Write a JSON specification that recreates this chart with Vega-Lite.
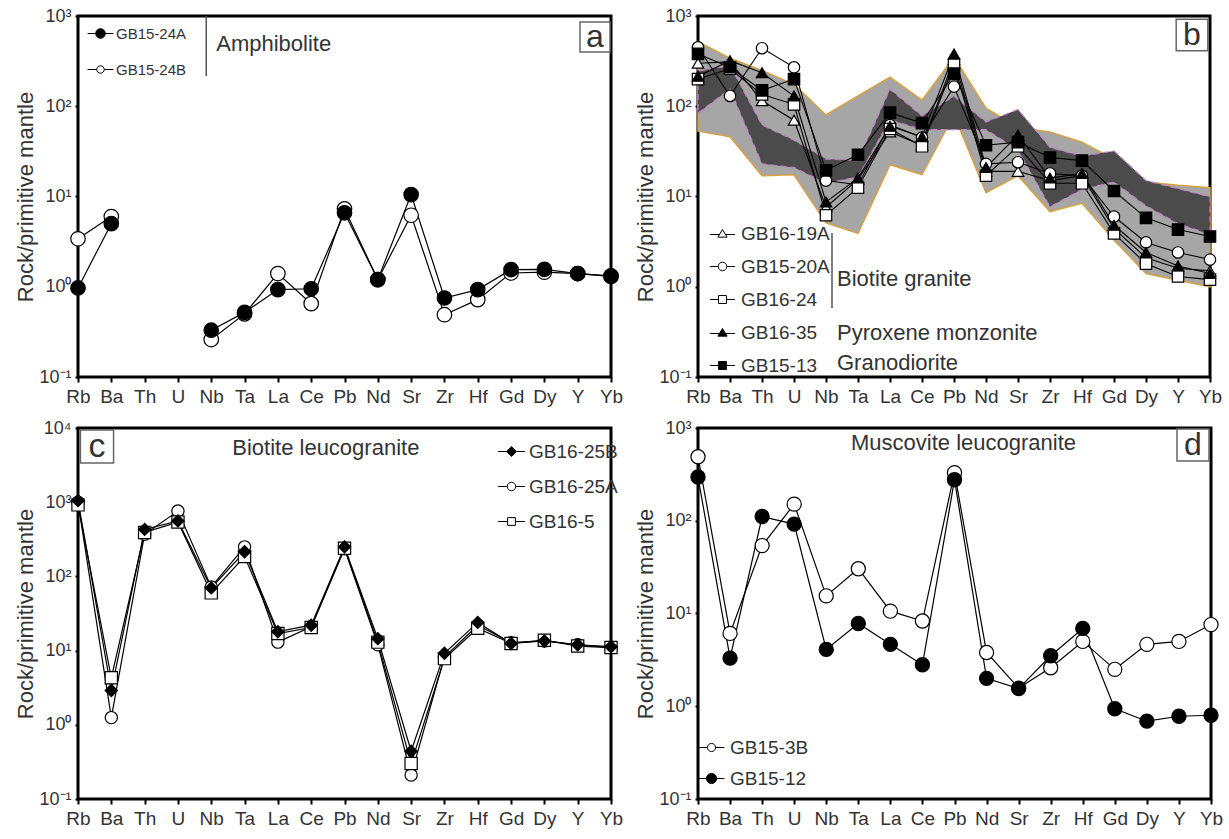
{
  "$schema": "https://vega.github.io/schema/vega-lite/v6.json",
  "padding": {"left": 12, "top": 5, "right": 5, "bottom": 5},
  "background": "white",
  "columns": 2,
  "spacing": {"row": 51, "column": 87},
  "bounds": "flush",
  "config": {
    "font": "Liberation Sans",
    "view": {"stroke": "black", "strokeWidth": 3},
    "axisX": {"domain": false, "grid": false, "labelFontSize": 19, "labelColor": "#333", "labelAngle": 0, "labelPadding": 5, "tickSize": 5, "tickWidth": 2, "tickColor": "black", "labelOverlap": false},
    "axisY": {"domain": false, "grid": false, "labelFontSize": 18, "labelColor": "#333", "tickSize": 3, "tickWidth": 2, "tickColor": "black", "labelPadding": 4, "minExtent": 40, "maxExtent": 40, "titlePadding": 1, "titleFontSize": 22, "titleFontWeight": "normal", "titleColor": "#333"},
    "legend": {"labelColor": "#333", "labelLimit": 0, "padding": 0, "symbolStrokeColor": "black", "symbolStrokeWidth": 1, "symbolOpacity": 1}
  },
  "concat": [
    {
      "width": 533, "height": 361,
      "data": {"values": [
        {"el":"Rb","s":"GB15-24B","v":3.4,"part":1},{"el":"Ba","s":"GB15-24B","v":6.0,"part":1},
        {"el":"Nb","s":"GB15-24B","v":0.26,"part":2},{"el":"Ta","s":"GB15-24B","v":0.5,"part":2},{"el":"La","s":"GB15-24B","v":1.4,"part":2},{"el":"Ce","s":"GB15-24B","v":0.65,"part":2},{"el":"Pb","s":"GB15-24B","v":7.3,"part":2},{"el":"Nd","s":"GB15-24B","v":1.2,"part":2},{"el":"Sr","s":"GB15-24B","v":6.2,"part":2},{"el":"Zr","s":"GB15-24B","v":0.49,"part":2},{"el":"Hf","s":"GB15-24B","v":0.72,"part":2},{"el":"Gd","s":"GB15-24B","v":1.42,"part":2},{"el":"Dy","s":"GB15-24B","v":1.45,"part":2},{"el":"Y","s":"GB15-24B","v":1.4,"part":2},{"el":"Yb","s":"GB15-24B","v":1.3,"part":2},
        {"el":"Rb","s":"GB15-24A","v":0.97,"part":1},{"el":"Ba","s":"GB15-24A","v":5.0,"part":1},
        {"el":"Nb","s":"GB15-24A","v":0.33,"part":2},{"el":"Ta","s":"GB15-24A","v":0.52,"part":2},{"el":"La","s":"GB15-24A","v":0.93,"part":2},{"el":"Ce","s":"GB15-24A","v":0.95,"part":2},{"el":"Pb","s":"GB15-24A","v":6.6,"part":2},{"el":"Nd","s":"GB15-24A","v":1.2,"part":2},{"el":"Sr","s":"GB15-24A","v":10.5,"part":2},{"el":"Zr","s":"GB15-24A","v":0.75,"part":2},{"el":"Hf","s":"GB15-24A","v":0.93,"part":2},{"el":"Gd","s":"GB15-24A","v":1.55,"part":2},{"el":"Dy","s":"GB15-24A","v":1.56,"part":2},{"el":"Y","s":"GB15-24A","v":1.4,"part":2},{"el":"Yb","s":"GB15-24A","v":1.32,"part":2}
      ]},
      "encoding": {
        "x": {"field": "el", "type": "ordinal", "sort": ["Rb","Ba","Th","U","Nb","Ta","La","Ce","Pb","Nd","Sr","Zr","Hf","Gd","Dy","Y","Yb"], "scale": {"type": "point", "padding": 0, "domain": ["Rb","Ba","Th","U","Nb","Ta","La","Ce","Pb","Nd","Sr","Zr","Hf","Gd","Dy","Y","Yb"]}, "axis": {"title": null}},
        "y": {"field": "v", "type": "quantitative", "scale": {"type": "log", "domain": [0.1, 1000], "nice": false}, "axis": {"title": "Rock/primitive mantle", "values": [0.1, 1, 10, 100, 1000], "labelExpr": "datum.value >= 5000 ? '10⁴' : datum.value >= 500 ? '10³' : datum.value >= 50 ? '10²' : datum.value >= 5 ? '10¹' : datum.value >= 0.5 ? '10⁰' : '10⁻¹'"}}
      },
      "layer": [
        {"mark": {"type": "line", "color": "black", "strokeWidth": 1.2}, "encoding": {"detail": [{"field": "s", "type": "nominal"}, {"field": "part", "type": "nominal"}]}},
        {"mark": {"type": "point", "size": 210, "stroke": "black", "strokeWidth": 1.2, "opacity": 1, "fillOpacity": 1},
         "encoding": {
           "shape": {"field": "s", "type": "nominal", "scale": {"domain": ["GB15-24A","GB15-24B"], "range": ["circle","circle"]}, "legend": null},
           "fill": {"field": "s", "type": "nominal", "scale": {"domain": ["GB15-24A","GB15-24B"], "range": ["black","white"]}, "legend": null}}},
        {"transform": [{"filter": "false"}],
         "mark": {"type": "point", "size": 185, "stroke": "black", "strokeWidth": 1, "opacity": 1, "fillOpacity": 1},
         "encoding": {
           "shape": {"field": "s", "type": "nominal", "scale": {"domain": ["GB15-24A","GB15-24B"], "range": ["M-1.9,0L-0.7,0M0.7,0L1.9,0M-0.7,0A0.7,0.7,0,1,1,0.7,0A0.7,0.7,0,1,1,-0.7,0Z","M-1.9,0L-0.55,0M0.55,0L1.9,0M-0.55,0A0.55,0.55,0,1,1,0.55,0A0.55,0.55,0,1,1,-0.55,0Z"]},
             "legend": {"orient": "none", "legendX": 15, "legendY": 10, "title": null, "labelFontSize": 15, "labelOffset": 8, "rowPadding": 20, "symbolSize": 185, "encode": {"symbols": {"update": {"stroke": {"value": "black"}, "strokeWidth": {"value": 1}}}}}},
           "fill": {"field": "s", "type": "nominal", "scale": {"domain": ["GB15-24A","GB15-24B"], "range": ["black","white"]},
             "legend": {"orient": "none", "legendX": 15, "legendY": 10, "title": null, "labelFontSize": 15, "labelOffset": 8, "rowPadding": 20, "symbolSize": 185, "encode": {"symbols": {"update": {"stroke": {"value": "black"}, "strokeWidth": {"value": 1}}}}}}}},
        {"data": {"values": [{"el": "Nb", "v": 490, "t": "Amphibolite"}]},
         "mark": {"type": "text", "align": "left", "baseline": "middle", "dx": 5, "fontSize": 22, "color": "#333"},
         "encoding": {"text": {"field": "t", "type": "nominal"}}},
        {"data": {"values": [{"el": "Nb", "v": 1000, "v2": 216}]},
         "mark": {"type": "rule", "xOffset": -5, "color": "#555", "strokeWidth": 1.5},
         "encoding": {"y2": {"field": "v2"}}},
        {"data": {"values": [{"el": "Yb", "v": 585, "t": "a"}]},
         "layer": [
           {"mark": {"type": "point", "shape": "square", "size": 900, "fill": "white", "stroke": "#666", "strokeWidth": 1.5, "opacity": 1, "fillOpacity": 1, "xOffset": -16}},
           {"mark": {"type": "text", "align": "center", "baseline": "middle", "dx": -16, "fontSize": 32, "color": "#333"}, "encoding": {"text": {"field": "t", "type": "nominal"}}}
         ]}
      ],
      "resolve": {"scale": {"shape": "independent", "fill": "independent"}}
    },
    {
      "width": 512, "height": 361,
      "data": {"values": [
        {"el":"Rb","s":"GB16-19A","v":300},{"el":"Ba","s":"GB16-19A","v":310},{"el":"Th","s":"GB16-19A","v":115},{"el":"U","s":"GB16-19A","v":70},{"el":"Nb","s":"GB16-19A","v":7.6},{"el":"Ta","s":"GB16-19A","v":15.5},{"el":"La","s":"GB16-19A","v":52},{"el":"Ce","s":"GB16-19A","v":37},{"el":"Pb","s":"GB16-19A","v":330},{"el":"Nd","s":"GB16-19A","v":19},{"el":"Sr","s":"GB16-19A","v":19},{"el":"Zr","s":"GB16-19A","v":15},{"el":"Hf","s":"GB16-19A","v":17},{"el":"Gd","s":"GB16-19A","v":4.4},{"el":"Dy","s":"GB16-19A","v":2.1},{"el":"Y","s":"GB16-19A","v":1.6},{"el":"Yb","s":"GB16-19A","v":1.5},
        {"el":"Rb","s":"GB15-20A","v":450},{"el":"Ba","s":"GB15-20A","v":130},{"el":"Th","s":"GB15-20A","v":440},{"el":"U","s":"GB15-20A","v":270},{"el":"Nb","s":"GB15-20A","v":15},{"el":"Ta","s":"GB15-20A","v":13.5},{"el":"La","s":"GB15-20A","v":62},{"el":"Ce","s":"GB15-20A","v":45},{"el":"Pb","s":"GB15-20A","v":165},{"el":"Nd","s":"GB15-20A","v":23},{"el":"Sr","s":"GB15-20A","v":24},{"el":"Zr","s":"GB15-20A","v":18},{"el":"Hf","s":"GB15-20A","v":17},{"el":"Gd","s":"GB15-20A","v":6.0},{"el":"Dy","s":"GB15-20A","v":3.1},{"el":"Y","s":"GB15-20A","v":2.4},{"el":"Yb","s":"GB15-20A","v":2.0},
        {"el":"Rb","s":"GB16-24","v":200},{"el":"Ba","s":"GB16-24","v":260},{"el":"Th","s":"GB16-24","v":135},{"el":"U","s":"GB16-24","v":105},{"el":"Nb","s":"GB16-24","v":6.2},{"el":"Ta","s":"GB16-24","v":12.5},{"el":"La","s":"GB16-24","v":56},{"el":"Ce","s":"GB16-24","v":36},{"el":"Pb","s":"GB16-24","v":290},{"el":"Nd","s":"GB16-24","v":17},{"el":"Sr","s":"GB16-24","v":36},{"el":"Zr","s":"GB16-24","v":14},{"el":"Hf","s":"GB16-24","v":14},{"el":"Gd","s":"GB16-24","v":3.9},{"el":"Dy","s":"GB16-24","v":1.8},{"el":"Y","s":"GB16-24","v":1.3},{"el":"Yb","s":"GB16-24","v":1.2},
        {"el":"Rb","s":"GB16-35","v":215},{"el":"Ba","s":"GB16-35","v":320},{"el":"Th","s":"GB16-35","v":235},{"el":"U","s":"GB16-35","v":130},{"el":"Nb","s":"GB16-35","v":8.7},{"el":"Ta","s":"GB16-35","v":16},{"el":"La","s":"GB16-35","v":60},{"el":"Ce","s":"GB16-35","v":46},{"el":"Pb","s":"GB16-35","v":380},{"el":"Nd","s":"GB16-35","v":21},{"el":"Sr","s":"GB16-35","v":48},{"el":"Zr","s":"GB16-35","v":16},{"el":"Hf","s":"GB16-35","v":18},{"el":"Gd","s":"GB16-35","v":4.8},{"el":"Dy","s":"GB16-35","v":2.4},{"el":"Y","s":"GB16-35","v":1.7},{"el":"Yb","s":"GB16-35","v":1.4},
        {"el":"Rb","s":"GB15-13","v":380},{"el":"Ba","s":"GB15-13","v":270},{"el":"Th","s":"GB15-13","v":150},{"el":"U","s":"GB15-13","v":200},{"el":"Nb","s":"GB15-13","v":19.5},{"el":"Ta","s":"GB15-13","v":29},{"el":"La","s":"GB15-13","v":85},{"el":"Ce","s":"GB15-13","v":65},{"el":"Pb","s":"GB15-13","v":230},{"el":"Nd","s":"GB15-13","v":37},{"el":"Sr","s":"GB15-13","v":40},{"el":"Zr","s":"GB15-13","v":27},{"el":"Hf","s":"GB15-13","v":25},{"el":"Gd","s":"GB15-13","v":11.5},{"el":"Dy","s":"GB15-13","v":5.8},{"el":"Y","s":"GB15-13","v":4.3},{"el":"Yb","s":"GB15-13","v":3.6}
      ]},
      "encoding": {
        "x": {"field": "el", "type": "ordinal", "sort": ["Rb","Ba","Th","U","Nb","Ta","La","Ce","Pb","Nd","Sr","Zr","Hf","Gd","Dy","Y","Yb"], "scale": {"type": "point", "padding": 0, "domain": ["Rb","Ba","Th","U","Nb","Ta","La","Ce","Pb","Nd","Sr","Zr","Hf","Gd","Dy","Y","Yb"]}, "axis": {"title": null}},
        "y": {"field": "v", "type": "quantitative", "scale": {"type": "log", "domain": [0.1, 1000], "nice": false}, "axis": {"title": "Rock/primitive mantle", "values": [0.1, 1, 10, 100, 1000], "labelExpr": "datum.value >= 5000 ? '10⁴' : datum.value >= 500 ? '10³' : datum.value >= 50 ? '10²' : datum.value >= 5 ? '10¹' : datum.value >= 0.5 ? '10⁰' : '10⁻¹'"}}
      },
      "layer": [
        {"data": {"values": [
          {"el":"Rb","v":53,"v2":520},{"el":"Ba","v":46,"v2":340},{"el":"Th","v":17,"v2":250},{"el":"U","v":17.4,"v2":175},{"el":"Nb","v":5.1,"v2":80},{"el":"Ta","v":3.9,"v2":130},{"el":"La","v":22.5,"v2":210},{"el":"Ce","v":17.5,"v2":117},{"el":"Pb","v":80,"v2":350},{"el":"Nd","v":11,"v2":95},{"el":"Sr","v":17,"v2":58},{"el":"Zr","v":6.8,"v2":52},{"el":"Hf","v":8.4,"v2":40},{"el":"Gd","v":3.3,"v2":26},{"el":"Dy","v":1.4,"v2":14.5},{"el":"Y","v":1.18,"v2":13.3},{"el":"Yb","v":1.0,"v2":12.5}
         ]},
         "mark": {"type": "area", "fill": "#a6a6a6", "stroke": "#d9a040", "strokeWidth": 1.5, "opacity": 1},
         "encoding": {"y2": {"field": "v2"}}},
        {"data": {"values": [
          {"el":"Rb","v":84,"v2":246},{"el":"Ba","v":155,"v2":280},{"el":"Th","v":23,"v2":62},{"el":"U","v":21,"v2":42},{"el":"Nb","v":14,"v2":26},{"el":"Ta","v":16.5,"v2":25},{"el":"La","v":71,"v2":154},{"el":"Ce","v":55,"v2":78},{"el":"Pb","v":55,"v2":129},{"el":"Nd","v":55,"v2":67},{"el":"Sr","v":33,"v2":92},{"el":"Zr","v":7.7,"v2":35},{"el":"Hf","v":12,"v2":28},{"el":"Gd","v":14.5,"v2":32},{"el":"Dy","v":7.9,"v2":15},{"el":"Y","v":5.0,"v2":12.2},{"el":"Yb","v":3.8,"v2":9.9}
         ]},
         "mark": {"type": "area", "fill": "#4b4b4b", "stroke": "#c77dc7", "strokeWidth": 1.2, "strokeDash": [6, 4], "opacity": 1},
         "encoding": {"y2": {"field": "v2"}}},
        {"mark": {"type": "line", "color": "black", "strokeWidth": 1.1}, "encoding": {"detail": {"field": "s", "type": "nominal"}}},
        {"mark": {"type": "point", "size": 130, "stroke": "black", "strokeWidth": 1.2, "opacity": 1, "fillOpacity": 1},
         "encoding": {
           "shape": {"field": "s", "type": "nominal", "scale": {"domain": ["GB16-19A","GB15-20A","GB16-24","GB16-35","GB15-13"], "range": ["triangle-up","circle","square","triangle-up","square"]}, "legend": null},
           "fill": {"field": "s", "type": "nominal", "scale": {"domain": ["GB16-19A","GB15-20A","GB16-24","GB16-35","GB15-13"], "range": ["white","white","white","black","black"]}, "legend": null}}},
        {"transform": [{"filter": "false"}],
         "mark": {"type": "point", "size": 174, "stroke": "black", "strokeWidth": 1, "opacity": 1, "fillOpacity": 1},
         "encoding": {
           "shape": {"field": "s", "type": "nominal", "scale": {"domain": ["GB16-19A","GB15-20A","GB16-24","GB16-35","GB15-13"], "range": [
              "M-1.9,0.15L-0.46,0.15M0.46,0.15L1.9,0.15M0,-0.6L0.7,0.55L-0.7,0.55Z",
              "M-1.9,0L-0.65,0M0.65,0L1.9,0M-0.65,0A0.65,0.65,0,1,1,0.65,0A0.65,0.65,0,1,1,-0.65,0Z",
              "M-1.9,0L-0.6,0M0.6,0L1.9,0M-0.6,-0.6L0.6,-0.6L0.6,0.6L-0.6,0.6Z",
              "M-1.9,0.15L-0.46,0.15M0.46,0.15L1.9,0.15M0,-0.6L0.7,0.55L-0.7,0.55Z",
              "M-1.9,0L-0.6,0M0.6,0L1.9,0M-0.6,-0.6L0.6,-0.6L0.6,0.6L-0.6,0.6Z"]},
             "legend": {"orient": "none", "legendX": 15, "legendY": 208, "title": null, "labelFontSize": 19, "labelOffset": 9, "rowPadding": 13, "symbolSize": 174, "encode": {"symbols": {"update": {"stroke": {"value": "black"}, "strokeWidth": {"value": 1}}}}}},
           "fill": {"field": "s", "type": "nominal", "scale": {"domain": ["GB16-19A","GB15-20A","GB16-24","GB16-35","GB15-13"], "range": ["white","white","white","black","black"]},
             "legend": {"orient": "none", "legendX": 15, "legendY": 208, "title": null, "labelFontSize": 19, "labelOffset": 9, "rowPadding": 13, "symbolSize": 174, "encode": {"symbols": {"update": {"stroke": {"value": "black"}, "strokeWidth": {"value": 1}}}}}}}},
        {"data": {"values": [
          {"el": "Nb", "v": 1.22, "t": "Biotite granite"},
          {"el": "Nb", "v": 0.308, "t": "Pyroxene monzonite"},
          {"el": "Nb", "v": 0.143, "t": "Granodiorite"}
         ]},
         "mark": {"type": "text", "align": "left", "baseline": "middle", "dx": 11, "fontSize": 22, "color": "#333"},
         "encoding": {"text": {"field": "t", "type": "nominal"}}},
        {"data": {"values": [{"el": "Nb", "v": 3.95, "v2": 0.58}]},
         "mark": {"type": "rule", "xOffset": 6, "color": "#555", "strokeWidth": 1.5},
         "encoding": {"y2": {"field": "v2"}}},
        {"data": {"values": [{"el": "Yb", "v": 616, "t": "b"}]},
         "layer": [
           {"mark": {"type": "point", "shape": "square", "size": 1000, "fill": "white", "stroke": "#666", "strokeWidth": 1.5, "opacity": 1, "fillOpacity": 1, "xOffset": -18}},
           {"mark": {"type": "text", "align": "center", "baseline": "middle", "dx": -18, "fontSize": 32, "color": "#333"}, "encoding": {"text": {"field": "t", "type": "nominal"}}}
         ]}
      ],
      "resolve": {"scale": {"shape": "independent", "fill": "independent"}}
    },
    {
      "width": 533, "height": 371,
      "data": {"values": [
        {"el":"Rb","s":"GB16-25A","v":1000},{"el":"Ba","s":"GB16-25A","v":1.25},{"el":"Th","s":"GB16-25A","v":370},{"el":"U","s":"GB16-25A","v":760},{"el":"Nb","s":"GB16-25A","v":72},{"el":"Ta","s":"GB16-25A","v":250},{"el":"La","s":"GB16-25A","v":13},{"el":"Ce","s":"GB16-25A","v":21},{"el":"Pb","s":"GB16-25A","v":235},{"el":"Nd","s":"GB16-25A","v":12},{"el":"Sr","s":"GB16-25A","v":0.21},{"el":"Zr","s":"GB16-25A","v":8.2},{"el":"Hf","s":"GB16-25A","v":22},{"el":"Gd","s":"GB16-25A","v":12.8},{"el":"Dy","s":"GB16-25A","v":13.5},{"el":"Y","s":"GB16-25A","v":12},{"el":"Yb","s":"GB16-25A","v":11},
        {"el":"Rb","s":"GB16-5","v":920},{"el":"Ba","s":"GB16-5","v":4.3},{"el":"Th","s":"GB16-5","v":390},{"el":"U","s":"GB16-5","v":540},{"el":"Nb","s":"GB16-5","v":60},{"el":"Ta","s":"GB16-5","v":185},{"el":"La","s":"GB16-5","v":17},{"el":"Ce","s":"GB16-5","v":20.5},{"el":"Pb","s":"GB16-5","v":240},{"el":"Nd","s":"GB16-5","v":13},{"el":"Sr","s":"GB16-5","v":0.3},{"el":"Zr","s":"GB16-5","v":7.8},{"el":"Hf","s":"GB16-5","v":20},{"el":"Gd","s":"GB16-5","v":12.5},{"el":"Dy","s":"GB16-5","v":13.8},{"el":"Y","s":"GB16-5","v":11.5},{"el":"Yb","s":"GB16-5","v":11},
        {"el":"Rb","s":"GB16-25B","v":1050},{"el":"Ba","s":"GB16-25B","v":2.9},{"el":"Th","s":"GB16-25B","v":430},{"el":"U","s":"GB16-25B","v":560},{"el":"Nb","s":"GB16-25B","v":70},{"el":"Ta","s":"GB16-25B","v":215},{"el":"La","s":"GB16-25B","v":18},{"el":"Ce","s":"GB16-25B","v":22},{"el":"Pb","s":"GB16-25B","v":250},{"el":"Nd","s":"GB16-25B","v":14.5},{"el":"Sr","s":"GB16-25B","v":0.44},{"el":"Zr","s":"GB16-25B","v":9.2},{"el":"Hf","s":"GB16-25B","v":24},{"el":"Gd","s":"GB16-25B","v":12.5},{"el":"Dy","s":"GB16-25B","v":13.5},{"el":"Y","s":"GB16-25B","v":12},{"el":"Yb","s":"GB16-25B","v":11.3}
      ]},
      "encoding": {
        "x": {"field": "el", "type": "ordinal", "sort": ["Rb","Ba","Th","U","Nb","Ta","La","Ce","Pb","Nd","Sr","Zr","Hf","Gd","Dy","Y","Yb"], "scale": {"type": "point", "padding": 0, "domain": ["Rb","Ba","Th","U","Nb","Ta","La","Ce","Pb","Nd","Sr","Zr","Hf","Gd","Dy","Y","Yb"]}, "axis": {"title": null}},
        "y": {"field": "v", "type": "quantitative", "scale": {"type": "log", "domain": [0.1, 10000], "nice": false}, "axis": {"title": "Rock/primitive mantle", "values": [0.1, 1, 10, 100, 1000, 10000], "labelExpr": "datum.value >= 5000 ? '10⁴' : datum.value >= 500 ? '10³' : datum.value >= 50 ? '10²' : datum.value >= 5 ? '10¹' : datum.value >= 0.5 ? '10⁰' : '10⁻¹'"}}
      },
      "layer": [
        {"mark": {"type": "line", "color": "black", "strokeWidth": 1.2}, "encoding": {"detail": {"field": "s", "type": "nominal"}}},
        {"mark": {"type": "point", "size": 150, "stroke": "black", "strokeWidth": 1.2, "opacity": 1, "fillOpacity": 1},
         "encoding": {
           "shape": {"field": "s", "type": "nominal", "scale": {"domain": ["GB16-25B","GB16-25A","GB16-5"], "range": ["diamond","circle","square"]}, "legend": null},
           "fill": {"field": "s", "type": "nominal", "scale": {"domain": ["GB16-25B","GB16-25A","GB16-5"], "range": ["black","white","white"]}, "legend": null}}},
        {"transform": [{"filter": "false"}],
         "mark": {"type": "point", "size": 200, "stroke": "black", "strokeWidth": 1, "opacity": 1, "fillOpacity": 1},
         "encoding": {
           "shape": {"field": "s", "type": "nominal", "scale": {"domain": ["GB16-25B","GB16-25A","GB16-5"], "range": [
              "M-1.9,0L-0.7,0M0.7,0L1.9,0M0,-0.7L0.7,0L0,0.7L-0.7,0Z",
              "M-1.9,0L-0.6,0M0.6,0L1.9,0M-0.6,0A0.6,0.6,0,1,1,0.6,0A0.6,0.6,0,1,1,-0.6,0Z",
              "M-1.9,0L-0.55,0M0.55,0L1.9,0M-0.55,-0.55L0.55,-0.55L0.55,0.55L-0.55,0.55Z"]},
             "legend": {"orient": "none", "legendX": 424, "legendY": 14, "title": null, "labelFontSize": 19, "labelOffset": 8, "rowPadding": 15, "symbolSize": 200, "encode": {"symbols": {"update": {"stroke": {"value": "black"}, "strokeWidth": {"value": 1}}}}}},
           "fill": {"field": "s", "type": "nominal", "scale": {"domain": ["GB16-25B","GB16-25A","GB16-5"], "range": ["black","white","white"]},
             "legend": {"orient": "none", "legendX": 424, "legendY": 14, "title": null, "labelFontSize": 19, "labelOffset": 8, "rowPadding": 15, "symbolSize": 200, "encode": {"symbols": {"update": {"stroke": {"value": "black"}, "strokeWidth": {"value": 1}}}}}}}},
        {"data": {"values": [{"el": "Nb", "v": 5370, "t": "Biotite leucogranite"}]},
         "mark": {"type": "text", "align": "left", "baseline": "middle", "dx": 21, "fontSize": 22, "color": "#333"},
         "encoding": {"text": {"field": "t", "type": "nominal"}}},
        {"data": {"values": [{"el": "Rb", "v": 5630, "t": "c"}]},
         "layer": [
           {"mark": {"type": "point", "shape": "square", "size": 1100, "fill": "white", "stroke": "#666", "strokeWidth": 1.5, "opacity": 1, "fillOpacity": 1, "xOffset": 19}},
           {"mark": {"type": "text", "align": "center", "baseline": "middle", "dx": 19, "fontSize": 34, "color": "#333"}, "encoding": {"text": {"field": "t", "type": "nominal"}}}
         ]}
      ],
      "resolve": {"scale": {"shape": "independent", "fill": "independent"}}
    },
    {
      "width": 513, "height": 371,
      "data": {"values": [
        {"el":"Rb","s":"GB15-3B","v":490},{"el":"Ba","s":"GB15-3B","v":6.1},{"el":"Th","s":"GB15-3B","v":54},{"el":"U","s":"GB15-3B","v":151},{"el":"Nb","s":"GB15-3B","v":15.5},{"el":"Ta","s":"GB15-3B","v":30.4},{"el":"La","s":"GB15-3B","v":10.6},{"el":"Ce","s":"GB15-3B","v":8.3},{"el":"Pb","s":"GB15-3B","v":330},{"el":"Nd","s":"GB15-3B","v":3.8},{"el":"Sr","s":"GB15-3B","v":1.57},{"el":"Zr","s":"GB15-3B","v":2.6},{"el":"Hf","s":"GB15-3B","v":5.0},{"el":"Gd","s":"GB15-3B","v":2.5},{"el":"Dy","s":"GB15-3B","v":4.65},{"el":"Y","s":"GB15-3B","v":5.0},{"el":"Yb","s":"GB15-3B","v":7.6},
        {"el":"Rb","s":"GB15-12","v":296},{"el":"Ba","s":"GB15-12","v":3.3},{"el":"Th","s":"GB15-12","v":111},{"el":"U","s":"GB15-12","v":92},{"el":"Nb","s":"GB15-12","v":4.1},{"el":"Ta","s":"GB15-12","v":7.8},{"el":"La","s":"GB15-12","v":4.65},{"el":"Ce","s":"GB15-12","v":2.8},{"el":"Pb","s":"GB15-12","v":277},{"el":"Nd","s":"GB15-12","v":2.0},{"el":"Sr","s":"GB15-12","v":1.55},{"el":"Zr","s":"GB15-12","v":3.5},{"el":"Hf","s":"GB15-12","v":6.9},{"el":"Gd","s":"GB15-12","v":0.94},{"el":"Dy","s":"GB15-12","v":0.69},{"el":"Y","s":"GB15-12","v":0.78},{"el":"Yb","s":"GB15-12","v":0.8}
      ]},
      "encoding": {
        "x": {"field": "el", "type": "ordinal", "sort": ["Rb","Ba","Th","U","Nb","Ta","La","Ce","Pb","Nd","Sr","Zr","Hf","Gd","Dy","Y","Yb"], "scale": {"type": "point", "padding": 0, "domain": ["Rb","Ba","Th","U","Nb","Ta","La","Ce","Pb","Nd","Sr","Zr","Hf","Gd","Dy","Y","Yb"]}, "axis": {"title": null}},
        "y": {"field": "v", "type": "quantitative", "scale": {"type": "log", "domain": [0.1, 1000], "nice": false}, "axis": {"title": "Rock/primitive mantle", "values": [0.1, 1, 10, 100, 1000], "labelExpr": "datum.value >= 5000 ? '10⁴' : datum.value >= 500 ? '10³' : datum.value >= 50 ? '10²' : datum.value >= 5 ? '10¹' : datum.value >= 0.5 ? '10⁰' : '10⁻¹'"}}
      },
      "layer": [
        {"mark": {"type": "line", "color": "black", "strokeWidth": 1.2}, "encoding": {"detail": {"field": "s", "type": "nominal"}}},
        {"mark": {"type": "point", "size": 200, "stroke": "black", "strokeWidth": 1.2, "opacity": 1, "fillOpacity": 1},
         "encoding": {
           "shape": {"field": "s", "type": "nominal", "scale": {"domain": ["GB15-3B","GB15-12"], "range": ["circle","circle"]}, "legend": null},
           "fill": {"field": "s", "type": "nominal", "scale": {"domain": ["GB15-3B","GB15-12"], "range": ["white","black"]}, "legend": null}}},
        {"transform": [{"filter": "false"}],
         "mark": {"type": "point", "size": 185, "stroke": "black", "strokeWidth": 1, "opacity": 1, "fillOpacity": 1},
         "encoding": {
           "shape": {"field": "s", "type": "nominal", "scale": {"domain": ["GB15-3B","GB15-12"], "range": [
              "M-1.9,0L-0.6,0M0.6,0L1.9,0M-0.6,0A0.6,0.6,0,1,1,0.6,0A0.6,0.6,0,1,1,-0.6,0Z",
              "M-1.9,0L-0.75,0M0.75,0L1.9,0M-0.75,0A0.75,0.75,0,1,1,0.75,0A0.75,0.75,0,1,1,-0.75,0Z"]},
             "legend": {"orient": "none", "legendX": 4, "legendY": 310, "title": null, "labelFontSize": 19, "labelOffset": 9, "rowPadding": 11, "symbolSize": 185, "encode": {"symbols": {"update": {"stroke": {"value": "black"}, "strokeWidth": {"value": 1}}}}}},
           "fill": {"field": "s", "type": "nominal", "scale": {"domain": ["GB15-3B","GB15-12"], "range": ["white","black"]},
             "legend": {"orient": "none", "legendX": 4, "legendY": 310, "title": null, "labelFontSize": 19, "labelOffset": 9, "rowPadding": 11, "symbolSize": 185, "encode": {"symbols": {"update": {"stroke": {"value": "black"}, "strokeWidth": {"value": 1}}}}}}}},
        {"data": {"values": [{"el": "Pb", "v": 689, "t": "Muscovite leucogranite"}]},
         "mark": {"type": "text", "align": "center", "baseline": "middle", "dx": 9, "fontSize": 22, "color": "#333"},
         "encoding": {"text": {"field": "t", "type": "nominal"}}},
        {"data": {"values": [{"el": "Yb", "v": 656, "t": "d"}]},
         "layer": [
           {"mark": {"type": "point", "shape": "square", "size": 1024, "fill": "white", "stroke": "#666", "strokeWidth": 1.5, "opacity": 1, "fillOpacity": 1, "xOffset": -18}},
           {"mark": {"type": "text", "align": "center", "baseline": "middle", "dx": -18, "fontSize": 32, "color": "#333"}, "encoding": {"text": {"field": "t", "type": "nominal"}}}
         ]}
      ],
      "resolve": {"scale": {"shape": "independent", "fill": "independent"}}
    }
  ]
}
